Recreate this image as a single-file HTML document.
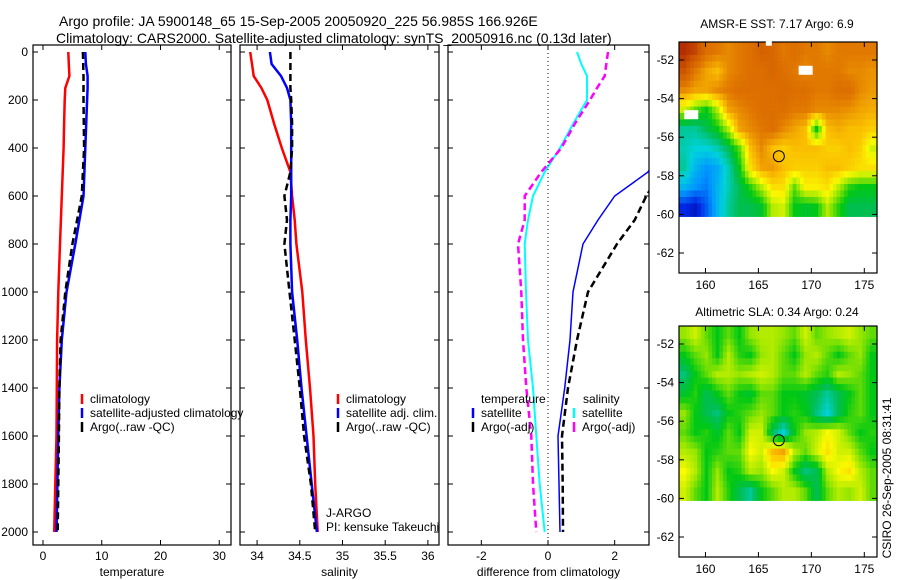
<!DOCTYPE html>
<html><head><meta charset="utf-8">
<style>
body{margin:0;background:#fff;}
svg{display:block;font-family:"Liberation Sans",sans-serif;}
text{font-size:12px;fill:#000;}
</style></head>
<body>
<svg id="c" width="900" height="580" viewBox="0 0 900 580">
<text x="59" y="26" style="font-size:14px">Argo profile: JA 5900148_65 15-Sep-2005 20050920_225 56.985S 166.926E</text>
<text x="56" y="43" style="font-size:14px">Climatology: CARS2000. Satellite-adjusted climatology: synTS_20050916.nc (0.13d later)</text>
<text x="777" y="28" text-anchor="middle">AMSR-E SST: 7.17 Argo: 6.9</text>
<text x="777" y="316" text-anchor="middle">Altimetric SLA: 0.34 Argo: 0.24</text>
<text transform="translate(891,478) rotate(-90)" text-anchor="middle">CSIRO 26-Sep-2005 08:31:41</text>
</svg>
<script>
const depths=[0,50,100,150,200,300,400,500,600,700,800,1000,1200,1400,1600,1800,2000];
const tempClim=[4.3,4.4,4.5,3.8,3.7,3.6,3.5,3.35,3.2,3.05,2.9,2.6,2.4,2.35,2.3,2.1,1.9];
const tempSat=[7.2,7.3,7.6,7.6,7.5,7.35,7.2,7.05,6.9,6.2,5.5,4.0,3.2,2.8,2.6,2.45,2.3];
const tempArgo=[6.8,6.85,6.9,6.9,6.9,6.95,7.0,6.8,6.6,5.8,5.0,3.8,3.0,2.8,2.7,2.6,2.5];
const salClim=[33.92,33.94,33.96,34.05,34.12,34.2,34.29,34.39,34.41,34.44,34.46,34.53,34.57,34.62,34.66,34.68,34.71];
const salSat=[34.15,34.17,34.28,34.35,34.39,34.4,34.4,34.4,34.4,34.39,34.39,34.41,34.47,34.52,34.58,34.64,34.7];
const salArgo=[34.39,34.39,34.39,34.39,34.4,34.41,34.41,34.39,34.32,34.35,34.32,34.38,34.44,34.5,34.55,34.63,34.68];
const dTempSat=[0.87,1.0,1.17,1.17,1.17,0.75,0.36,-0.1,-0.45,-0.6,-0.7,-0.66,-0.6,-0.45,-0.35,-0.25,-0.1];
const dTempArgo=[1.8,1.75,1.7,1.47,1.26,0.8,0.4,-0.2,-0.7,-0.7,-0.9,-0.8,-0.75,-0.65,-0.5,-0.45,-0.35];
const dSalSat=[3.1,3.3,3.6,3.6,3.6,3.6,3.4,3.0,2.0,1.5,1.05,0.75,0.66,0.5,0.3,0.33,0.36];
const dSalArgo=[3.2,3.5,3.6,3.6,3.6,3.6,3.6,3.4,2.95,2.6,2.07,1.2,0.87,0.6,0.42,0.44,0.45];
const tempTicks=[0,10,20,30];
const salTicks=[34,34.5,35,35.5,36];
const diffTicks=[-2,0,2];
const depthTicks=[0,200,400,600,800,1000,1200,1400,1600,1800,2000];
const lonTicks=[160,165,170,175];
const latTicks=[-52,-54,-56,-58,-60,-62];
const sstGrid=[
[0.93,0.9,0.82,0.8,0.78,0.8,0.82,0.85,0.84,0.8,0.82,0.8,0.8,0.78,0.8,0.8,0.8,0.8],
[0.88,0.8,0.75,0.72,0.78,0.8,0.82,0.82,0.84,0.82,0.8,0.78,0.8,0.8,0.8,0.78,0.78,0.77],
[0.78,0.75,0.75,0.78,0.8,0.82,0.82,0.82,0.82,0.83,0.82,0.82,0.8,0.8,0.82,0.82,0.78,0.76],
[0.62,0.55,0.5,0.6,0.75,0.78,0.8,0.82,0.82,0.82,0.8,0.8,0.78,0.78,0.78,0.77,0.75,0.74],
[0.4,0.4,0.45,0.5,0.6,0.75,0.78,0.8,0.82,0.78,0.75,0.72,0.5,0.72,0.74,0.72,0.72,0.7],
[0.38,0.35,0.35,0.38,0.45,0.55,0.72,0.78,0.72,0.7,0.72,0.72,0.72,0.7,0.7,0.72,0.7,0.62],
[0.4,0.3,0.25,0.28,0.38,0.5,0.68,0.75,0.76,0.72,0.7,0.7,0.7,0.72,0.72,0.7,0.68,0.68],
[0.3,0.25,0.22,0.3,0.38,0.45,0.52,0.6,0.68,0.68,0.55,0.66,0.66,0.68,0.6,0.52,0.5,0.5],
[0.12,0.08,0.18,0.3,0.4,0.45,0.45,0.48,0.6,0.62,0.5,0.48,0.5,0.6,0.52,0.45,0.45,0.45]];
const slaGrid=[
[0.58,0.62,0.55,0.5,0.55,0.5,0.58,0.6,0.6,0.58,0.55,0.62,0.55,0.58,0.6,0.62,0.58,0.55],
[0.5,0.55,0.58,0.5,0.6,0.52,0.5,0.58,0.6,0.55,0.5,0.58,0.6,0.55,0.5,0.55,0.58,0.5],
[0.42,0.5,0.55,0.6,0.6,0.58,0.6,0.62,0.6,0.55,0.55,0.6,0.55,0.52,0.6,0.58,0.55,0.5],
[0.48,0.52,0.45,0.5,0.55,0.5,0.48,0.55,0.55,0.5,0.5,0.48,0.45,0.4,0.45,0.5,0.55,0.5],
[0.58,0.5,0.45,0.42,0.5,0.52,0.55,0.58,0.55,0.5,0.52,0.5,0.42,0.35,0.45,0.52,0.55,0.5],
[0.55,0.5,0.52,0.48,0.55,0.5,0.62,0.62,0.45,0.35,0.5,0.58,0.6,0.65,0.62,0.55,0.5,0.52],
[0.6,0.58,0.5,0.52,0.55,0.55,0.65,0.62,0.72,0.75,0.6,0.55,0.62,0.68,0.62,0.62,0.55,0.5],
[0.65,0.6,0.5,0.58,0.5,0.52,0.6,0.58,0.65,0.62,0.5,0.42,0.45,0.6,0.65,0.68,0.6,0.55],
[0.62,0.55,0.5,0.6,0.52,0.45,0.4,0.5,0.55,0.6,0.6,0.55,0.45,0.55,0.6,0.58,0.62,0.55]];
const argoLon=166.93, argoLat=-56.985;

const NS='http://www.w3.org/2000/svg';
const svg=document.getElementById('c');
function mk(tag,attrs,parent){const e=document.createElementNS(NS,tag);for(const k in attrs)e.setAttribute(k,attrs[k]);(parent||svg).appendChild(e);return e;}
const yD=d=>52+d*0.24;
let clipN=0;
function panel(name,x0,x1,dmin,dmax,ticks,fmt,xlabel,showDepth){
  const sx=v=>x0+(v-dmin)/(dmax-dmin)*(x1-x0);
  const g=mk('g',{});
  
  
  const id='cl'+(clipN++);
  const cp=mk('clipPath',{id:id},g);mk('rect',{x:x0,y:45,width:x1-x0,height:500},cp);
  const fr=mk('rect',{x:x0,y:45,width:x1-x0,height:500,fill:'none',stroke:'#000','stroke-width':1.2},g);
  
  
  ticks.forEach(t=>{const x=sx(t);
    mk('line',{x1:x,x2:x,y1:545,y2:540,stroke:'#000'},g);mk('line',{x1:x,x2:x,y1:45,y2:50,stroke:'#000'},g);
    const tx=mk('text',{x:x,y:560,'text-anchor':'middle'},g);tx.textContent=fmt(t);
    
    });
  depthTicks.forEach(d=>{const y=yD(d);
    mk('line',{x1:x0,x2:x0+5,y1:y,y2:y,stroke:'#000'},g);mk('line',{x1:x1,x2:x1-5,y1:y,y2:y,stroke:'#000'},g);
    if(showDepth){const tx=mk('text',{x:x0-5,y:y+4,'text-anchor':'end'},g);tx.textContent=d;
      
      }});
  const xl=mk('text',{x:(x0+x1)/2,y:576,'text-anchor':'middle'},g);xl.textContent=xlabel;
  
  
  const inner=mk('g',{'clip-path':'url(#'+id+')'},g);
  return {sx,inner};
}
function line(p,vals,color,w,dash,name){
  const pts=vals.map((v,i)=>p.sx(v).toFixed(1)+','+yD(depths[i]).toFixed(1)).join(' ');
  const l=mk('polyline',{points:pts,fill:'none',stroke:color,'stroke-width':w,'stroke-dasharray':dash||'none'},p.inner);
  
  
}
function legend(items,x,y){
  items.forEach((it,i)=>{const yy=y+i*14;
    const m=mk('line',{x1:x,x2:x,y1:yy-9,y2:yy+1,stroke:it[1],'stroke-width':2.5});
    
    
    const t=mk('text',{x:x+8,y:yy});t.textContent=it[0];
    
    });
}
const p1=panel('temperature',33,231,-1.7,32,tempTicks,t=>t,'temperature',true);
line(p1,tempClim,'#f00',2.5,null,'temp-climatology-line');
line(p1,tempSat,'#00f',2.5,null,'temp-satellite-line');
line(p1,tempArgo,'#000',2.5,'7,4','temp-argo-line');
const p2=panel('salinity',240,439,33.8,36.13,salTicks,t=>t,'salinity',false);
line(p2,salClim,'#f00',2.5,null,'sal-climatology-line');
line(p2,salSat,'#00f',2.5,null,'sal-satellite-line');
line(p2,salArgo,'#000',2.5,'7,4','sal-argo-line');
const p3=panel('difference',448,649,-3,3.03,diffTicks,t=>t,'difference from climatology',false);
const z=mk('line',{x1:p3.sx(0),x2:p3.sx(0),y1:45,y2:545,stroke:'#000','stroke-dasharray':'1,3'});


line(p3,dTempSat,'#0ff',2,null,'dtemp-satellite-line');
line(p3,dTempArgo,'#f0f',2.5,'7,4','dtemp-argo-line');
line(p3,dSalSat,'#00f',1.5,null,'dsal-satellite-line');
line(p3,dSalArgo,'#000',2.5,'7,4','dsal-argo-line');
legend([['climatology','#f00'],['satellite-adjusted climatology','#00f'],['Argo(..raw -QC)','#000']],82,403);
legend([['climatology','#f00'],['satellite adj. clim.','#00f'],['Argo(..raw -QC)','#000']],338,403);
const tt=mk('text',{x:481,y:403});tt.textContent='temperature';


const st=mk('text',{x:583,y:403});st.textContent='salinity';


legend([['satellite','#00f'],['Argo(-adj)','#000']],473,417);
legend([['satellite','#0ff'],['Argo(-adj)','#f0f']],574,417);
const j1=mk('text',{x:326,y:517});j1.textContent='J-ARGO';


const j2=mk('text',{x:326,y:531});j2.textContent='PI: kensuke Takeuchi';



const cmapStops=[[0,0,0,130],[0.12,0,40,230],[0.25,0,150,255],[0.35,0,210,220],[0.45,0,190,80],[0.5,0,200,20],[0.58,150,230,0],[0.65,250,250,0],[0.72,250,190,0],[0.8,225,120,0],[0.88,205,85,0],[0.95,170,30,0],[1,150,20,0]];
function cmap(v){v=Math.max(0,Math.min(1,v));
  for(let i=1;i<cmapStops.length;i++){const a=cmapStops[i-1],b=cmapStops[i];
    if(v<=b[0]){const t=(v-a[0])/(b[0]-a[0]);
      return 'rgb('+[1,2,3].map(k=>Math.round(a[k]+(b[k]-a[k])*t)).join(',')+')';}}
  return 'rgb(150,20,0)';}
function sample(grid,fi,fj){
  const R=grid.length-1,C=grid[0].length-1;
  fi=Math.max(0,Math.min(R,fi));fj=Math.max(0,Math.min(C,fj));
  const i0=Math.floor(fi),j0=Math.floor(fj),i1=Math.min(R,i0+1),j1=Math.min(C,j0+1),ti=fi-i0,tj=fj-j0;
  return (grid[i0][j0]*(1-tj)+grid[i0][j1]*tj)*(1-ti)+(grid[i1][j0]*(1-tj)+grid[i1][j1]*tj)*ti;}
function map(name,grid,top,bottom){
  const L=679,R=877,lon0=157.5,lon1=176.2;
  const ref=top===42?60:344;
  const sx=lon=>L+(lon-lon0)/(lon1-lon0)*(R-L);
  const sy=lat=>ref+(-52-lat)*19.3;
  const lt=-52-(top-ref)/19.3;
  const g=mk('g',{});
  
  
  const rows=grid.length,cols=grid[0].length,latB=-60.1,S=3;
  for(let i=0;i<rows*S;i++)for(let j=0;j<cols*S;j++){
    const v=sample(grid,(i+0.5)/S-0.5,(j+0.5)/S-0.5);
    const la0=lt+(latB-lt)*i/(rows*S),la1=lt+(latB-lt)*(i+1)/(rows*S);
    const lo0=lon0+(lon1-lon0)*j/(cols*S),lo1=lon0+(lon1-lon0)*(j+1)/(cols*S);
    const c=mk('rect',{x:sx(lo0).toFixed(2),y:sy(la0).toFixed(2),width:(sx(lo1)-sx(lo0)+0.6).toFixed(2),height:(sy(la1)-sy(la0)+0.6).toFixed(2),fill:cmap(v)},g);
    
    }
  const f=mk('rect',{x:L,y:top,width:R-L,height:bottom-top,fill:'none',stroke:'#000','stroke-width':1.2},g);
  
  
  lonTicks.forEach(lo=>{const x=sx(lo);mk('line',{x1:x,x2:x,y1:bottom,y2:bottom-5,stroke:'#000'},g);mk('line',{x1:x,x2:x,y1:top,y2:top+5,stroke:'#000'},g);
    const t=mk('text',{x:x,y:bottom+16,'text-anchor':'middle'},g);t.textContent=lo;
    
    });
  latTicks.forEach(la=>{const y=sy(la);mk('line',{x1:L,x2:L+5,y1:y,y2:y,stroke:'#000'},g);mk('line',{x1:R,x2:R-5,y1:y,y2:y,stroke:'#000'},g);
    const t=mk('text',{x:L-5,y:y+4,'text-anchor':'end'},g);t.textContent=la;
    
    });
  const c=mk('circle',{cx:sx(argoLon),cy:sy(argoLat),r:5.5,fill:'none',stroke:'#000'},g);
  
  
  return {sx,sy,g};
}
const m1=map('sst',sstGrid,42,273);
[[165.7,-51.0,6,5],[168.8,-52.3,14,9],[158.0,-54.6,14,9]].forEach(w=>{
  const r=mk('rect',{x:m1.sx(w[0]),y:m1.sy(w[1]),width:w[2],height:w[3],fill:'#fff'},m1.g);
  
  });
const m2=map('sla',slaGrid,326,557);
</script>
</body></html>
